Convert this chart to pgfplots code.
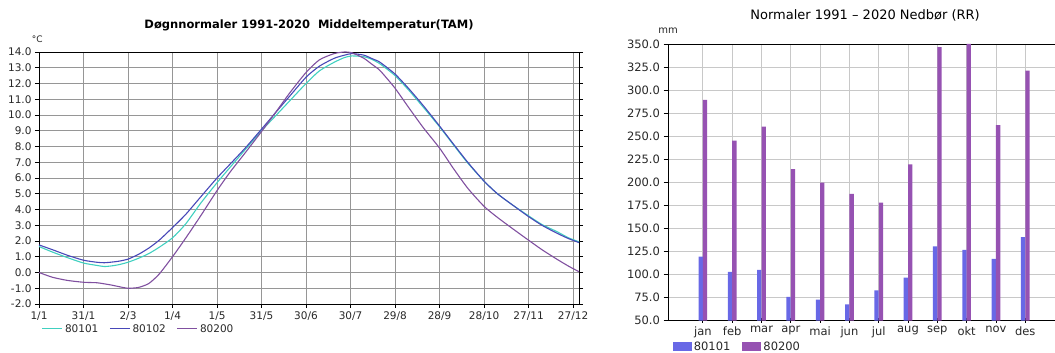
\documentclass[border=0pt]{standalone}
\usepackage{fontspec}
\setmainfont{DejaVu Sans}
\usepackage{pgfplots}
\usepackage{pgfplotstable}
\pgfplotsset{compat=1.18}
\definecolor{cA}{RGB}{64,208,192}
\definecolor{cB}{RGB}{72,72,184}
\definecolor{cC}{RGB}{128,80,160}
\definecolor{barA}{RGB}{104,104,230}
\definecolor{barB}{RGB}{150,82,178}
\definecolor{gridL}{RGB}{150,150,150}
\definecolor{gridR}{RGB}{200,200,200}
\definecolor{txt}{RGB}{40,40,40}

\pgfplotstableread{
day a b c
1 1.65 1.75 0.0
10 1.3 1.45 -0.3
20 0.95 1.1 -0.5
31 0.6 0.78 -0.62
40 0.45 0.65 -0.65
45 0.38 0.62 -0.72
50 0.42 0.66 -0.8
55 0.5 0.72 -0.9
61 0.65 0.85 -1.0
68 0.9 1.15 -0.95
75 1.2 1.55 -0.7
82 1.6 2.05 -0.1
91 2.2 2.85 1.0
100 3.1 3.7 2.2
110 4.4 4.8 3.6
121 5.7 6.0 5.2
130 6.7 6.9 6.4
140 7.8 7.9 7.6
151 9.0 9.1 8.95
160 9.9 10.1 10.1
170 10.9 11.2 11.4
181 12.0 12.4 12.7
190 12.8 13.1 13.5
200 13.35 13.6 13.9
207 13.65 13.8 14.0
212 13.75 13.9 13.95
220 13.7 13.8 13.6
225 13.55 13.6 13.25
230 13.3 13.4 12.9
233 13.1 13.2 12.6
241 12.5 12.6 11.7
250 11.6 11.7 10.5
260 10.5 10.6 9.2
271 9.25 9.3 7.9
280 8.15 8.2 6.65
290 6.95 7.0 5.35
301 5.8 5.8 4.2
310 5.0 5.0 3.5
320 4.3 4.3 2.8
331 3.6 3.55 2.05
340 3.05 3.0 1.45
350 2.6 2.5 0.85
358 2.2 2.15 0.4
365 1.95 1.9 0.05
}\temps

\pgfplotstableread{
m a c
1 119.4 289.4
2 102.8 245.2
3 105.0 260.4
4 75.7 214.2
5 72.8 199.7
6 67.8 187.4
7 83.0 178.0
8 96.6 219.6
9 130.7 346.5
10 126.7 350.0
11 117.0 262.0
12 140.5 321.0
}\rain

\begin{document}
\begin{tikzpicture}[x=1pt,y=1pt]
\useasboundingbox (0,0) rectangle (1055,353);
\begin{axis}[
  at={(39pt,49pt)}, anchor=south west,
  scale only axis, width=540pt, height=252pt,
  xmin=1, xmax=365, ymin=-2, ymax=14,
  xtick={1,31,61,91,121,151,181,211,241,271,301,331,361},
  xticklabels={1/1,31/1,2/3,1/4,1/5,31/5,30/6,30/7,29/8,28/9,28/10,27/11,27/12},
  ytick={-2,-1,...,14},
  yticklabels={-2.0,-1.0,0.0,1.0,2.0,3.0,4.0,5.0,6.0,7.0,8.0,9.0,10.0,11.0,12.0,13.0,14.0},
  grid=major, major grid style={gridL, line width=0.8pt},
  axis line style={black, line width=0.8pt},
  tick align=outside, major tick length=4pt,
  xtick pos=bottom, ytick pos=both,
  tick style={black, line width=0.7pt},
  tick label style={font=\fontsize{10.5}{12}\selectfont, text=txt},
  every axis title shift=0pt,
  title={\textbf{Døgnnormaler 1991-2020\ \ Middeltemperatur(TAM)}},
  title style={at={(0.5,1.107)}, anchor=center, font=\fontsize{11.5}{13}\selectfont, text=black},
  legend style={at={(0.005,-0.099)}, anchor=west, draw=none, fill=none,
    font=\fontsize{10.5}{12}\selectfont, text=txt, inner sep=0pt,
    /tikz/every even column/.append style={column sep=9pt}},
  legend columns=-1,
  legend image code/.code={\draw[#1] (0pt,0pt) -- (20pt,0pt);},
  clip=false,
  extra description/.code={\node[font=\fontsize{9}{10}\selectfont, text=txt] at (rel axis cs:-0.003,1.052) {°C};},
]
\addplot[cA, line width=1.1pt, smooth, tension=0.4] table[x=day,y=a]{\temps};
\addlegendentry{80101}
\addplot[cB, line width=1.1pt, smooth, tension=0.4] table[x=day,y=b]{\temps};
\addlegendentry{80102}
\addplot[cC, line width=1.1pt, smooth, tension=0.4] table[x=day,y=c]{\temps};
\addlegendentry{80200}
\end{axis}

\begin{axis}[
  at={(668pt,32.3pt)}, anchor=south west,
  scale only axis, width=388pt, height=276.7pt,
  xmin=-0.19, xmax=13.05, ymin=50, ymax=350,
  ybar, bar width=4.3pt,
  xtick={1,...,12},
  xticklabels={jan,feb,mar,apr,mai,jun,jul,aug,sep,okt,nov,des},
  ytick={50,75,...,350},
  yticklabels={50.0,75.0,100.0,125.0,150.0,175.0,200.0,225.0,250.0,275.0,300.0,325.0,350.0},
  grid=major, major grid style={gridR, line width=0.8pt},
  axis line style={black, line width=0.8pt},
  xtick pos=bottom, ytick pos=left,
  xtick align=center, ytick align=outside, major tick length=4.5pt,
  tick style={black, line width=0.8pt},
  tick label style={font=\fontsize{11.5}{13}\selectfont, text=txt},
  every axis title shift=0pt,
  title={Normaler 1991 – 2020 Nedbør (RR)},
  title style={at={(0.508,1.105)}, anchor=center, font=\fontsize{13}{15}\selectfont, text=black},
  legend style={at={(0.012,-0.095)}, anchor=west, draw=none, fill=none,
    font=\fontsize{11.5}{13}\selectfont, text=txt, inner sep=0pt,
    /tikz/every even column/.append style={column sep=10pt}},
  legend columns=-1,
  legend image code/.code={\fill[#1,draw=none] (0pt,-4.5pt) rectangle (19pt,4.5pt);},
  extra description/.code={\node[font=\fontsize{10}{11}\selectfont, text=txt] at (rel axis cs:0,1.047) {mm};},
]
\addplot[fill=barA, draw=none, bar shift=-2.2pt] table[x=m,y=a]{\rain};
\addlegendentry{80101}
\addplot[fill=barB, draw=none, bar shift=2.2pt] table[x=m,y=c]{\rain};
\addlegendentry{80200}
\end{axis}
\end{tikzpicture}
\end{document}
